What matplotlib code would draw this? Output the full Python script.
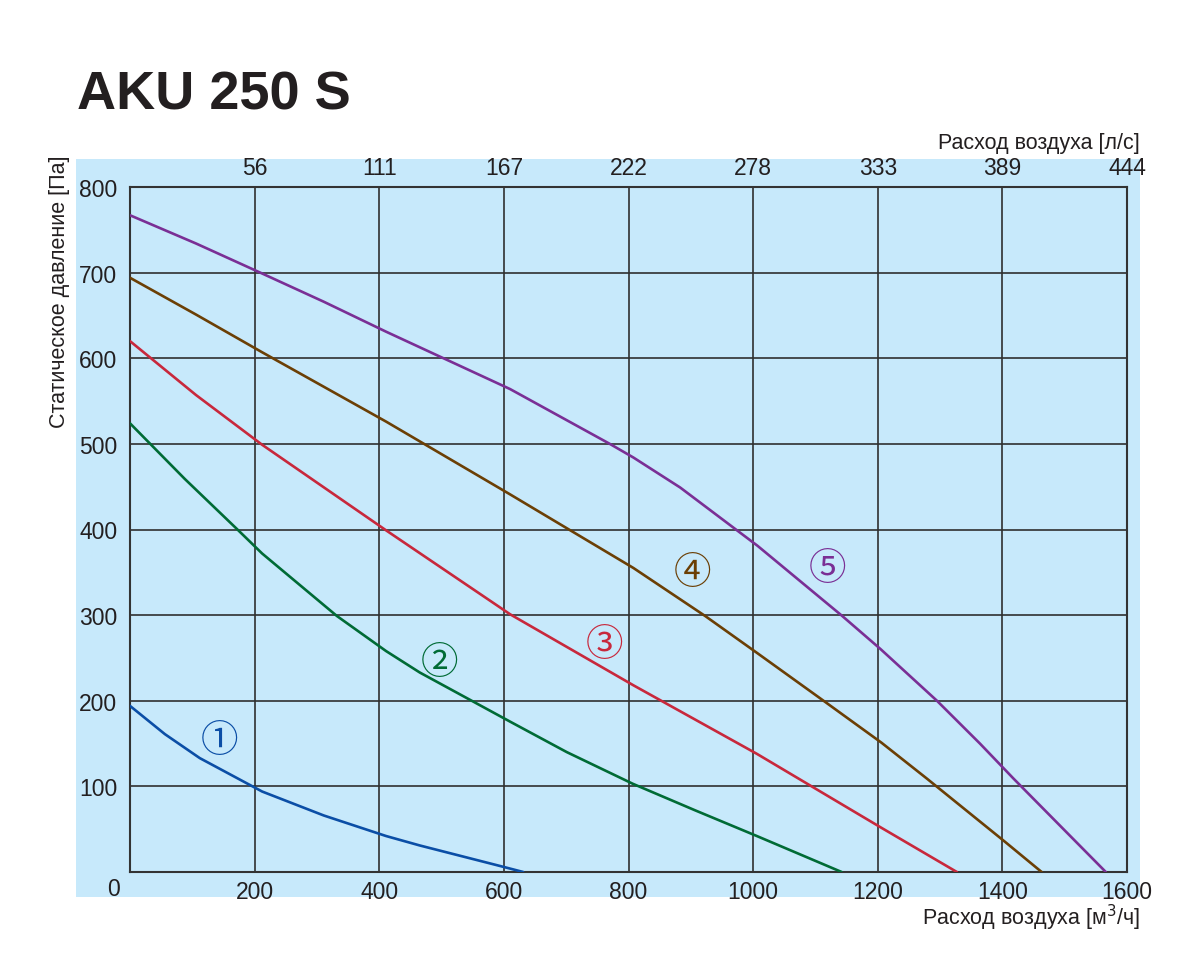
import matplotlib
matplotlib.use("Agg")
import matplotlib.pyplot as plt
from matplotlib.patches import Rectangle

plt.rcParams['font.family'] = ['Liberation Sans', 'DejaVu Sans']

# ---- data (flow m3/h, static pressure Pa) ----
flow1 = [0, 56, 112, 212, 311, 411, 465, 594, 631]
pres1 = [194, 161, 133, 94, 66, 42, 31, 7, 0]

flow2 = [0, 88, 171, 212, 332, 411, 465, 609, 701, 807, 907, 1006, 1142]
pres2 = [524, 459, 401, 372, 299, 258, 233, 176, 140, 103, 72, 42, 0]

flow3 = [0, 106, 212, 411, 610, 808, 1006, 1205, 1327]
pres3 = [620, 557, 499, 399, 301, 218, 138, 52, 0]

flow4 = [0, 106, 212, 411, 610, 808, 923, 1006, 1113, 1206, 1279, 1403, 1463]
pres4 = [694, 651, 607, 526, 441, 355, 299, 256, 200, 151, 109, 36, 0]

flow5 = [0, 106, 212, 311, 411, 610, 770, 808, 883, 1007,
         1143, 1205, 1295, 1364, 1418, 1566]
pres5 = [767, 734, 699, 666, 631, 564, 500, 484, 449, 381,
         299, 260, 200, 150, 109, 0]

x_ticks = [200, 400, 600, 800, 1000, 1200, 1400, 1600]
top_tick_labels = ['56', '111', '167', '222', '278', '333', '389', '444']
y_ticks = [100, 200, 300, 400, 500, 600, 700, 800]

curve_labels = ['①', '②', '③', '④', '⑤']
label_pos = [(144, 154), (497, 245), (762, 266), (903, 350), (1120, 354)]
colors = ['#0b4ea6', '#006b35', '#c8283c', '#6b3f05', '#7a2f95']

W, H = 1200, 979
fig = plt.figure(figsize=(W / 100, H / 100), dpi=100)

# light blue background panel
bg = Rectangle((76 / W, 1 - 898 / H), (1140 - 76) / W, (898 - 160) / H,
               transform=fig.transFigure, facecolor='#c7e9fb',
               edgecolor='none', zorder=-5)
fig.add_artist(bg)

ax = fig.add_axes([130 / W, 1 - 873 / H, (1127 - 130) / W, (873 - 188) / H])
ax.set_zorder(1)
ax.set_facecolor('#c7e9fb')
ax.set_xlim(0, 1600)
ax.set_ylim(0, 800)
ax.set_xticks(x_ticks)
ax.set_yticks(y_ticks)
ax.grid(True, color='#2f2f2f', lw=1.2)
ax.set_axisbelow(True)
for s in ax.spines.values():
    s.set_color('#333333')
    s.set_linewidth(1.5)
ax.tick_params(axis='both', length=0, labelsize=16.5, colors='#231f20')
ax.tick_params(axis='x', pad=6)
ax.tick_params(axis='y', pad=9)

series = [(flow1, pres1), (flow2, pres2), (flow3, pres3), (flow4, pres4), (flow5, pres5)]
for (fx, py), c in zip(series, colors):
    ax.plot(fx, py, color=c, lw=1.9, solid_joinstyle='round',
            solid_capstyle='round', zorder=3)

for lab, (lx, ly), c in zip(curve_labels, label_pos, colors):
    ax.text(lx, ly, lab, color=c, fontsize=27, ha='center', va='center',
            family=['Noto Sans CJK JP', 'DejaVu Sans'], zorder=4)

# top axis (l/s)
axt = ax.twiny()
axt.set_xlim(ax.get_xlim())
axt.set_xticks(x_ticks)
axt.set_xticklabels(top_tick_labels)
axt.tick_params(axis='x', length=0, labelsize=16.5, pad=6, colors='#231f20')
for s in axt.spines.values():
    s.set_visible(False)

# "0" label at corner
fig.text(113 / W, 1 - 889 / H, '0', fontsize=16.5, ha='center', va='center', color='#231f20')

# axis labels
fig.text(1140 / W, 1 - 918 / H, 'Расход воздуха [м$^3$/ч]', fontsize=15.5,
         ha='right', va='center', color='#231f20')
fig.text(1140 / W, 1 - 144 / H, 'Расход воздуха [л/с]', fontsize=15.5,
         ha='right', va='center', color='#231f20')
fig.text(60 / W, 1 - 155 / H, 'Статическое давление [Па]', fontsize=15.5,
         rotation=90, ha='center', va='top', color='#231f20')

# title
fig.text(77 / W, 1 - 110 / H, 'AKU 250 S', fontsize=39, fontweight='bold',
         ha='left', va='baseline', color='#231f20')

fig.savefig('out.png', dpi=100)
